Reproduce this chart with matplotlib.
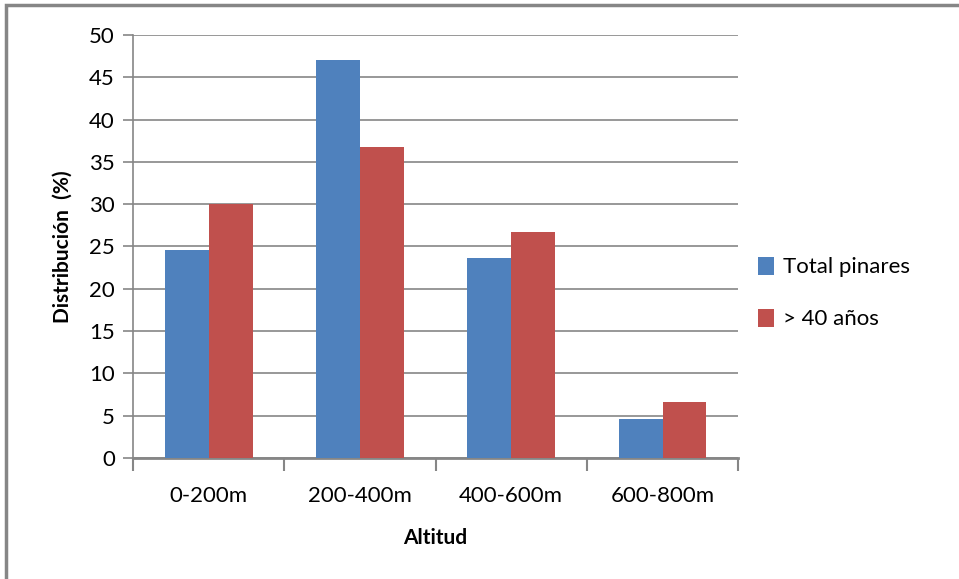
import matplotlib.pyplot as plt
import numpy as np
from matplotlib.patches import Rectangle

categories = ["0-200m", "200-400m", "400-600m", "600-800m"]
total_pinares = [24.6, 47.0, 23.6, 4.6]
mayores_40 = [30.0, 36.8, 26.7, 6.6]
series_names = ["Total pinares", "> 40 años"]

plt.rcParams['font.family'] = ['Lato', 'DejaVu Sans']

fig = plt.figure(figsize=(9.59, 5.79), dpi=100)
ax = fig.add_axes([0.1387, 0.209, 0.631, 0.7306])

x = np.arange(len(categories))
w = 0.29
ax.bar(x - w / 2, total_pinares, w, color="#4F81BD", label=series_names[0], zorder=3)
ax.bar(x + w / 2, mayores_40, w, color="#C0504D", label=series_names[1], zorder=3)

ax.set_xlim(-0.5, len(categories) - 0.5)
ax.set_ylim(0, 50)
ax.set_yticks(range(0, 51, 5))
ax.set_xticks(x)
ax.set_xticklabels(categories)
ax.set_xticks(np.arange(-0.5, len(categories)), minor=True)
ax.tick_params(axis="x", which="major", length=0, pad=20, labelsize=16)
ax.tick_params(axis="x", which="minor", length=9, width=1.5, color="#868686")
ax.tick_params(axis="y", length=7, width=1.2, color="#868686", labelsize=16, pad=6)

ax.yaxis.grid(True, color="#868686", linewidth=1.2, zorder=0)
for s in ["top", "right"]:
    ax.spines[s].set_visible(False)
ax.spines["left"].set_color("#868686")
ax.spines["left"].set_linewidth(1.2)
ax.spines["bottom"].set_color("#868686")
ax.spines["bottom"].set_linewidth(2)

ax.set_xlabel("Altitud", fontsize=15, fontweight="bold", labelpad=16)
ax.set_ylabel("Distribución  (%)", fontsize=15, fontweight="bold", labelpad=12)

ax.legend(loc="center left", bbox_to_anchor=(1.0, 0.39), frameon=False,
          fontsize=16, handlelength=0.7, handleheight=0.9, handletextpad=0.4,
          labelspacing=1.4)

fig.patches.append(Rectangle((0.006, -0.1), 1.2, 1.092, transform=fig.transFigure,
                             fill=False, edgecolor="#868686", linewidth=2.5))

fig.savefig("out.png", dpi=100)
